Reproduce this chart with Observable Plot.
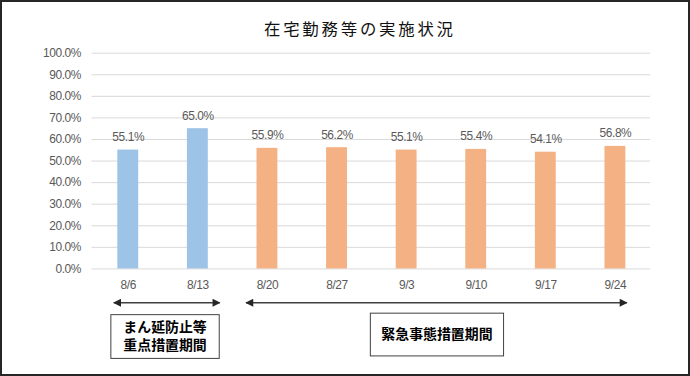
<!DOCTYPE html>
<html>
<head>
<meta charset="utf-8">
<script src="https://cdn.jsdelivr.net/npm/d3@7"></script>
<script src="https://cdn.jsdelivr.net/npm/@observablehq/plot@0.6"></script>
<style>
  html, body { margin: 0; padding: 0; background: #fff; }
  #wrap { position: relative; width: 690px; height: 376px; box-sizing: border-box; border: 2px solid #262626; background: #fff; overflow: hidden; }
  #wrap svg { position: absolute; left: -2px; top: -2px; }
  #wrap svg text.num { font-family: 'Liberation Sans', Arial, sans-serif; font-size: 12px; letter-spacing: -0.4px; }
</style>
</head>
<body>
<div id="wrap"></div>
<script>
const title = "在宅勤務等の実施状況";
const dates = ["8/6", "8/13", "8/20", "8/27", "9/3", "9/10", "9/17", "9/24"];
const rates = [55.1, 65.0, 55.9, 56.2, 55.1, 55.4, 54.1, 56.8];
const phases = ["まん延防止等重点措置", "まん延防止等重点措置", "緊急事態措置", "緊急事態措置", "緊急事態措置", "緊急事態措置", "緊急事態措置", "緊急事態措置"];
const phaseNames = ["まん延防止等重点措置", "緊急事態措置"];
const phaseColors = ["#9DC3E6", "#F4B183"];
const yTicks = [0, 10, 20, 30, 40, 50, 60, 70, 80, 90, 100];
const boxLabel1 = ["まん延防止等", "重点措置期間"];
const boxLabel2 = ["緊急事態措置期間"];

const data = dates.map((d, i) => ({date: d, rate: rates[i], phase: phases[i]}));
const fmt = v => v.toFixed(1) + "%";
const labelFont = "'Liberation Sans', Arial, sans-serif";

const plot = Plot.plot({
  width: 690,
  height: 376,
  marginLeft: 92,
  marginRight: 36,
  marginTop: 53,
  marginBottom: 106,
  style: {fontFamily: labelFont, fontSize: "12px", color: "#595959", background: "transparent"},
  x: {domain: dates, paddingInner: 0.7, paddingOuter: 0.35},
  y: {domain: [0, 100]},
  color: {domain: phaseNames, range: phaseColors},
  marks: [
    Plot.gridY(yTicks, {stroke: "#d9d9d9", strokeOpacity: 1, strokeWidth: 1}),
    Plot.axisY(yTicks, {tickFormat: fmt, tickSize: 0, tickPadding: 11, fontSize: 12, fontFamily: labelFont, fill: "#595959", label: null}),
    Plot.axisX({tickSize: 0, tickPadding: 12, fontSize: 12, fontFamily: labelFont, fill: "#595959", label: null}),
    Plot.barY(data, {x: "date", y: "rate", fill: "phase"}),
    Plot.text(data, {x: "date", y: "rate", text: d => fmt(d.rate), dy: -13, fill: "#595959", fontSize: 12, fontFamily: labelFont})
  ]
});

document.getElementById("wrap").appendChild(plot);

const svg = d3.select(plot);
svg.selectAll("g[aria-label='y-axis tick label'] text, g[aria-label='x-axis tick label'] text, g[aria-label='text'] text").classed("num", true);
const xs = plot.scale("x");
const center = d => xs.apply(d) + xs.bandwidth / 2;

svg.append("text")
  .attr("x", 362)
  .attr("y", 31)
  .attr("text-anchor", "middle")
  .attr("dominant-baseline", "middle")
  .attr("font-family", "'Noto Sans CJK JP', sans-serif")
  .attr("font-size", 16.5)
  .attr("letter-spacing", 2.8)
  .attr("fill", "#111")
  .text(title);

const defs = svg.append("defs");
defs.append("marker")
  .attr("id", "ah")
  .attr("viewBox", "0 0 10 10")
  .attr("refX", 9).attr("refY", 5)
  .attr("markerWidth", 9).attr("markerHeight", 8)
  .attr("markerUnits", "userSpaceOnUse")
  .attr("orient", "auto-start-reverse")
  .append("path").attr("d", "M0,0 L10,5 L0,10 z").attr("fill", "#262626");

const arrows = [
  [center(dates[0]) - 14, center(dates[1]) + 22.5],
  [center(dates[2]) - 21, center(dates[7]) + 12]
];
arrows.forEach(([a, b]) => {
  svg.append("line")
    .attr("x1", a).attr("x2", b)
    .attr("y1", 304.5).attr("y2", 304.5)
    .attr("stroke", "#404040").attr("stroke-width", 1.5)
    .attr("marker-start", "url(#ah)").attr("marker-end", "url(#ah)");
});

function box(cx, top, w, h, lines, lineY) {
  svg.append("rect")
    .attr("x", cx - w / 2).attr("y", top)
    .attr("width", w).attr("height", h)
    .attr("fill", "#fff").attr("stroke", "#404040").attr("stroke-width", 1);
  lines.forEach((t, i) => {
    svg.append("text")
      .attr("x", cx).attr("y", lineY[i])
      .attr("text-anchor", "middle")
      .attr("dominant-baseline", "middle")
      .attr("font-family", "'Noto Sans CJK JP', sans-serif")
      .attr("font-weight", "bold")
      .attr("font-size", 14)
      .attr("fill", "#000")
      .text(t);
  });
}
box((center(dates[0]) + center(dates[1])) / 2 + 2.5, 316.5, 109, 44, boxLabel1, [330, 348.5]);
box(center(dates[4]) + 31, 315, 134, 43, boxLabel2, [337]);
</script>
</body>
</html>
